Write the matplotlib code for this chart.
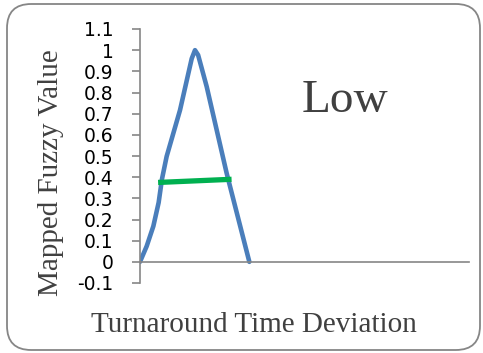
import matplotlib
matplotlib.use("Agg")
from matplotlib import pyplot as plt
from matplotlib.patches import FancyBboxPatch

# membership curve for "Low"
low_x = [0.0, 0.122, 0.243, 0.34, 0.40, 0.486, 0.73, 0.943, 1.003, 1.06, 1.216, 1.581, 1.994]
low_y = [0.0, 0.074, 0.168, 0.28, 0.39, 0.498, 0.717, 0.96, 1.0, 0.977, 0.828, 0.418, 0.0]

# cut line
cut_x = [0.33, 1.67]
cut_y = [0.375, 0.39]

y_ticks = [round(-0.1 + 0.1 * i, 1) for i in range(13)]
y_labels = ["-0.1", "0", "0.1", "0.2", "0.3", "0.4", "0.5", "0.6", "0.7", "0.8", "0.9", "1", "1.1"]

fig = plt.figure(figsize=(4.83, 3.53), dpi=100)
ax = fig.add_axes([140 / 483, 1 - 283 / 353, (469 - 140) / 483, (283 - 29) / 353])

ax.plot(low_x, low_y, color="#4a7ebb", lw=3.3, solid_capstyle="round", solid_joinstyle="round")
ax.plot(cut_x, cut_y, color="#00b050", lw=3.8, solid_capstyle="butt")

ax.set_xlim(0, 6)
ax.set_ylim(-0.1, 1.1)
ax.set_yticks(y_ticks)
ax.set_yticklabels(y_labels, fontfamily="DejaVu Sans", fontsize=13.5)
ax.set_xticks([])

for s in ["top", "right"]:
    ax.spines[s].set_visible(False)
ax.spines["bottom"].set_position(("data", 0))
ax.spines["bottom"].set_color("#868686")
ax.spines["left"].set_color("#868686")
ax.spines["bottom"].set_linewidth(1.2)
ax.spines["left"].set_linewidth(1.2)
ax.tick_params(axis="y", colors="#868686", labelcolor="black", length=6, width=1.2, pad=13)
ax.patch.set_alpha(0)

serif = "Liberation Serif"
fig.text(51 / 483, 1 - 173 / 353, "Mapped Fuzzy Value", rotation=90, ha="center", va="center",
         fontfamily=serif, fontsize=21, color="#404040")
fig.text(253.5 / 483, 1 - 331.7 / 353, "Turnaround Time Deviation", ha="center", va="baseline",
         fontfamily=serif, fontsize=21, color="#404040")
ax.text(3.74, 0.706, "Low", ha="center", va="baseline", fontfamily=serif, fontsize=34,
        color="#404040")

border = FancyBboxPatch((7 / 483, 3 / 353), 473 / 483, 346 / 353,
                        boxstyle="round,pad=0,rounding_size=0.05",
                        transform=fig.transFigure, fill=False, ec="#868686", lw=1.3,
                        mutation_aspect=483 / 353)
fig.patches.append(border)

fig.savefig("out.png", dpi=100)
